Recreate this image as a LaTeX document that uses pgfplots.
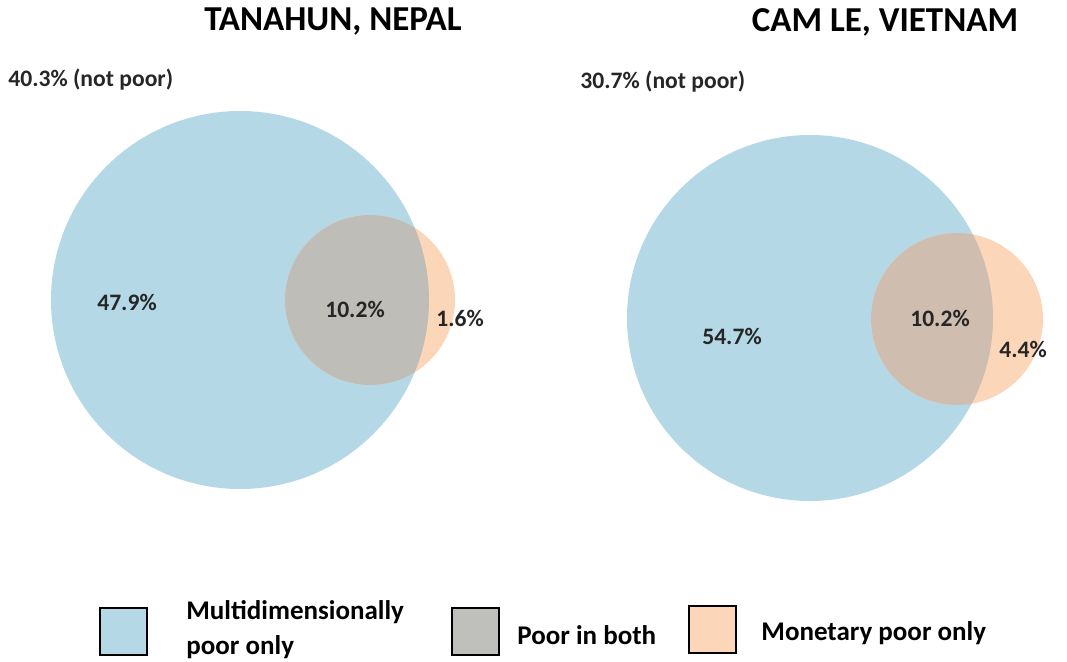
\documentclass[border=0pt]{standalone}
\usepackage{pgfplots}
\pgfplotsset{compat=1.18}
\usepackage{fontspec}
\setmainfont{Carlito}
\definecolor{cblue}{HTML}{B5D8E7}
\definecolor{corange}{HTML}{FCD6B8}
\definecolor{cgray}{HTML}{BEBDB8}
\definecolor{cbrown}{HTML}{CFBDAF}
\definecolor{lgray}{HTML}{BFBFBB}
\begin{document}
\begin{tikzpicture}
\begin{axis}[
  hide axis, scale only axis,
  width=533.5pt, height=330.5pt,
  xmin=0, xmax=1067, ymin=0, ymax=661,
  clip=false,
]
% full frame for the bounding box
\path (axis cs:0,0) rectangle (axis cs:1067,661);
% Left: Tanahun, Nepal  (centre x, centre y, radius in px)
\fill[cblue] (axis cs:240,361) circle[radius=189];
\fill[corange] (axis cs:370,361) circle[radius=85];
\begin{scope}
  \clip (axis cs:240,361) circle[radius=189];
  \fill[cgray] (axis cs:370,361) circle[radius=85];
\end{scope}
% Right: Cam Le, Vietnam
\fill[cblue] (axis cs:810,343) circle[radius=183];
\fill[corange] (axis cs:957,342) circle[radius=86];
\begin{scope}
  \clip (axis cs:810,343) circle[radius=183];
  \fill[cbrown] (axis cs:957,342) circle[radius=86];
\end{scope}
% titles
\node[font=\fontsize{17.5}{20}\selectfont\bfseries] at (axis cs:333,639) {TANAHUN, NEPAL};
\node[font=\fontsize{17.5}{20}\selectfont\bfseries] at (axis cs:885,639) {CAM LE, VIETNAM};
% labels
\begin{scope}[every node/.style={font=\fontsize{11.8}{14}\selectfont\bfseries, text=black!85}]
\node[anchor=west, inner sep=0pt] at (axis cs:8,581) {40.3\% (not poor)};
\node[anchor=west, inner sep=0pt] at (axis cs:580,579) {30.7\% (not poor)};
\node at (axis cs:127,359) {47.9\%};
\node at (axis cs:355,352) {10.2\%};
\node at (axis cs:460,343) {1.6\%};
\node at (axis cs:732,325) {54.7\%};
\node at (axis cs:940,343) {10.2\%};
\node at (axis cs:1023,312) {4.4\%};
\end{scope}
% legend
\draw[fill=cblue, line width=0.6pt] (axis cs:100,6) rectangle (axis cs:147,53);
\draw[fill=lgray, line width=0.6pt] (axis cs:452,6) rectangle (axis cs:499,53);
\draw[fill=corange, line width=0.6pt] (axis cs:689,8) rectangle (axis cs:736,55);
\begin{scope}[every node/.style={font=\fontsize{13.5}{16}\selectfont\bfseries, anchor=west, inner sep=0pt}]
\node at (axis cs:186,49) {Multidimensionally};
\node at (axis cs:186,14) {poor only};
\node at (axis cs:517,26) {Poor in both};
\node at (axis cs:761,28) {Monetary poor only};
\end{scope}
\end{axis}
\end{tikzpicture}
\end{document}
